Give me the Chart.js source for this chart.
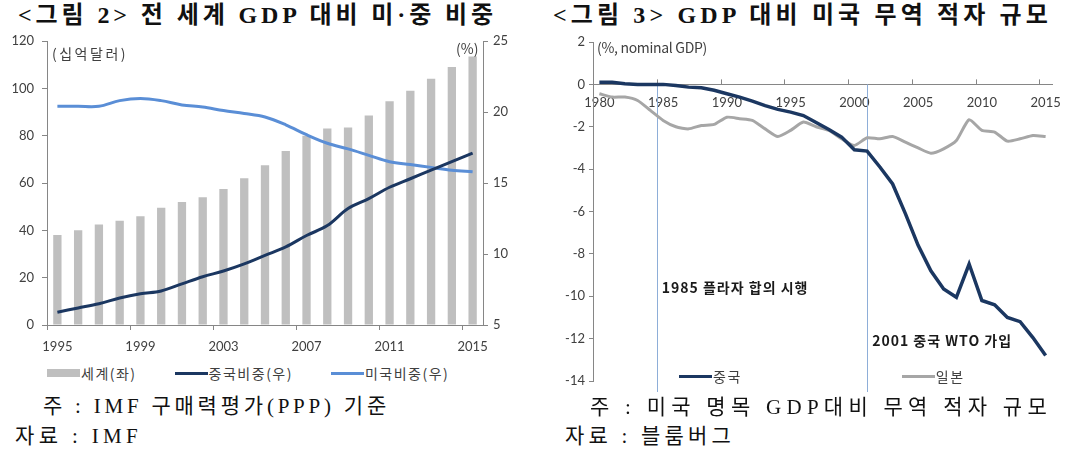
<!DOCTYPE html>
<html>
<head>
<meta charset="utf-8">
<script src="https://cdn.jsdelivr.net/npm/chart.js@4.4.0/dist/chart.umd.min.js"></script>
<style>
  body { margin: 0; background: #fff; width: 1085px; height: 455px; position: relative; overflow: hidden;
         font-family: "Noto Sans CJK KR", sans-serif; }
  .abs { position: absolute; white-space: nowrap; }
  .title { font-family: "Liberation Serif", "Noto Sans CJK KR", serif; font-size: 24px; font-weight: bold; color: #111; line-height: 1; }
  .note { font-family: "Liberation Serif", "Noto Sans CJK KR", serif; font-size: 21px; color: #111; line-height: 1; }
  .unit { font-size: 14px; color: #404040; line-height: 1; }
  .legend { position: absolute; display: flex; align-items: center; font-size: 14px; color: #404040; line-height: 1; }
  .legend .item { display: flex; align-items: center; }
  .legend .sw { width: 33px; margin-right: 1px; }
  canvas { position: absolute; }
</style>
</head>
<body>

<div class="abs title fit" data-w="479" style="left:18px; top:3px;">&lt;그림 2&gt; 전 세계 GDP 대비 미·중 비중</div>
<div class="abs title fit" data-w="499" style="left:553px; top:3px;">&lt;그림 3&gt; GDP 대비 미국 무역 적자 규모</div>

<canvas id="c1" width="540" height="330" style="left:0; top:30px;"></canvas>
<canvas id="c2" width="540" height="365" style="left:545px; top:30px;"></canvas>

<div class="abs unit fit" data-w="76" style="left:52px; top:46px;">(십억달러)</div>
<div class="abs unit" style="left:456px; top:41px;">(%)</div>
<div class="abs unit fit" data-w="110" style="left:597px; top:40px;">(%, nominal GDP)</div>

<div id="leg1" class="legend" style="left:47px; top:366px;"></div>
<div id="leg2" class="legend" style="left:679px; top:369px;"></div>

<div class="abs note fit" data-w="347" style="left:43px; top:396px;">주 : IMF 구매력평가(PPP) 기준</div>
<div class="abs note fit" data-w="127" style="left:15px; top:426px;">자료 : IMF</div>
<div class="abs note fit" data-w="462" style="left:590px; top:397px;">주 : 미국 명목 GDP대비 무역 적자 규모</div>
<div class="abs note fit" data-w="170" style="left:565px; top:426px;">자료 : 블룸버그</div>

<script>
// <그림 2> 1995-2015
const years1 = ['1995', '1996', '1997', '1998', '1999', '2000', '2001', '2002', '2003', '2004', '2005',
                '2006', '2007', '2008', '2009', '2010', '2011', '2012', '2013', '2014', '2015'];
const worldGdp = [38, 40, 42.5, 44, 46, 49.5, 52, 54, 57.5, 62, 67.5,
                  73.5, 80, 83, 83.5, 88.5, 94.5, 99, 104, 109, 113.5];
const chinaShare = [5.9, 6.2, 6.5, 6.9, 7.2, 7.4, 7.9, 8.4, 8.8, 9.3, 9.9,
                    10.5, 11.3, 12.0, 13.2, 13.9, 14.7, 15.3, 15.9, 16.5, 17.1];
const usShare = [20.4, 20.4, 20.4, 20.8, 20.95, 20.8, 20.5, 20.35, 20.1, 19.9, 19.65,
                 19.1, 18.4, 17.8, 17.4, 16.95, 16.5, 16.3, 16.1, 15.9, 15.8];

// <그림 3> 1980-2015
const years2 = ['1980', '1981', '1982', '1983', '1984', '1985', '1986', '1987', '1988', '1989',
                '1990', '1991', '1992', '1993', '1994', '1995', '1996', '1997', '1998', '1999',
                '2000', '2001', '2002', '2003', '2004', '2005', '2006', '2007', '2008', '2009',
                '2010', '2011', '2012', '2013', '2014', '2015'];
const chinaDeficit = [0.1, 0.1, 0.03, 0, 0, 0, -0.05, -0.13, -0.16, -0.28,
                      -0.44, -0.6, -0.79, -1.0, -1.18, -1.31, -1.47, -1.8, -2.13, -2.49,
                      -3.09, -3.15, -3.9, -4.7, -6.1, -7.6, -8.8, -9.66, -10.05, -8.48,
                      -10.2, -10.4, -11.0, -11.2, -11.95, -12.8];
const japanDeficit = [-0.44, -0.6, -0.6, -0.76, -1.23, -1.7, -2.0, -2.1, -1.94, -1.89,
                      -1.55, -1.62, -1.7, -2.1, -2.46, -2.17, -1.78, -2.0, -2.17, -2.57,
                      -2.88, -2.52, -2.57, -2.46, -2.73, -3.0, -3.25, -3.04, -2.65, -1.67,
                      -2.17, -2.25, -2.68, -2.57, -2.41, -2.46];

// event markers (year on the category axis) and their labels
const eventYears = [1984.5, 2001];
const eventLabels = ['1985 플라자 합의 시행', '2001 중국 WTO 가입'];
const eventLabelValues = [-9.6, -12.1];

const axisGray = '#868686';
const navy = '#1b3761';

Chart.defaults.font.family = 'Lato, "Noto Sans CJK KR", sans-serif';
Chart.defaults.font.size = 13;
Chart.defaults.color = '#404040';

// keep tick padding from pushing the plot area down
const trimPad = (s, w) => { s.width = w; s.paddingTop = 4; s.paddingBottom = 0; };

const chart1 = new Chart(document.getElementById('c1'), {
    type: 'bar',
    data: {
        labels: years1,
        datasets: [
            {
                type: 'bar', label: '세계(좌)', data: worldGdp, yAxisID: 'y',
                backgroundColor: '#bfbfbf', barPercentage: 0.4, categoryPercentage: 1, order: 3
            },
            {
                type: 'line', label: '중국비중(우)', data: chinaShare, yAxisID: 'y1',
                borderColor: navy, borderWidth: 3, pointRadius: 0, tension: 0.35, order: 1
            },
            {
                type: 'line', label: '미국비중(우)', data: usShare, yAxisID: 'y1',
                borderColor: '#5a8ed6', borderWidth: 3, pointRadius: 0, tension: 0.35, order: 2
            }
        ]
    },
    options: {
        responsive: false,
        animation: false,
        layout: { padding: { top: 11, bottom: 0 } },
        plugins: { legend: { display: false }, tooltip: { enabled: false } },
        scales: {
            x: {
                offset: true,
                grid: {
                    drawOnChartArea: false, offset: true, tickLength: 5,
                    tickColor: (c) => (c.index % 4 === 0 ? axisGray : 'rgba(0,0,0,0)')
                },
                border: { color: axisGray },
                ticks: {
                    autoSkip: false, maxRotation: 0, padding: 9,
                    callback: (v, i) => (i % 4 === 0 ? years1[i] : '')
                },
                afterFit: (s) => { s.height = 35; }
            },
            y: {
                min: 0, max: 120,
                grid: { drawOnChartArea: false, tickLength: 5, tickColor: axisGray },
                border: { color: axisGray },
                ticks: { stepSize: 20, padding: 8 },
                afterFit: (s) => trimPad(s, 47)
            },
            y1: {
                position: 'right', min: 5, max: 25,
                grid: { drawOnChartArea: false, tickLength: 5, tickColor: axisGray },
                border: { color: axisGray },
                ticks: { stepSize: 5, padding: 5 },
                afterFit: (s) => trimPad(s, 57)
            }
        }
    }
});

const eventPlugin = {
    id: 'events',
    beforeDatasetsDraw(chart) {
        const { ctx, chartArea } = chart;
        const x = chart.scales.x, y = chart.scales.y;
        const step = x.getPixelForValue(1) - x.getPixelForValue(0);
        const y0 = y.getPixelForValue(0);
        ctx.save();
        ctx.lineWidth = 1;
        // tick marks point up from the zero line
        ctx.strokeStyle = axisGray;
        years2.forEach((yr, i) => {
            if (i % 5 !== 0) return;
            const px = Math.round(x.getPixelForValue(i) - step / 2) + 0.5;
            ctx.beginPath();
            ctx.moveTo(px, y0);
            ctx.lineTo(px, y0 - 5);
            ctx.stroke();
        });
        ctx.strokeStyle = '#8eaed8';
        eventYears.forEach((yr) => {
            const px = Math.round(x.getPixelForValue(0) + (yr - 1980) * step) + 0.5;
            ctx.beginPath();
            ctx.moveTo(px, y0);
            ctx.lineTo(px, chartArea.bottom + 11);
            ctx.stroke();
        });
        ctx.restore();
    },
    afterDatasetsDraw(chart) {
        const { ctx } = chart;
        const x = chart.scales.x, y = chart.scales.y;
        const step = x.getPixelForValue(1) - x.getPixelForValue(0);
        ctx.save();
        ctx.font = 'bold 14px "Noto Sans CJK KR", sans-serif';
        ctx.letterSpacing = '1px';
        ctx.fillStyle = '#1a1a1a';
        ctx.textBaseline = 'middle';
        eventYears.forEach((yr, i) => {
            const px = x.getPixelForValue(0) + (yr - 1980) * step;
            ctx.fillText(eventLabels[i], px + 5, y.getPixelForValue(eventLabelValues[i]));
        });
        ctx.restore();
    }
};

const chart2 = new Chart(document.getElementById('c2'), {
    type: 'line',
    data: {
        labels: years2,
        datasets: [
            {
                label: '중국', data: chinaDeficit, borderColor: navy, borderWidth: 3.5,
                pointRadius: 0, tension: 0, order: 1
            },
            {
                label: '일본', data: japanDeficit, borderColor: '#a6a6a6', borderWidth: 3,
                pointRadius: 0, tension: 0.2, order: 2
            }
        ]
    },
    options: {
        responsive: false,
        animation: false,
        layout: { padding: { top: 12, right: 33, bottom: 14 } },
        plugins: { legend: { display: false }, tooltip: { enabled: false } },
        scales: {
            x: {
                position: { y: 0 },
                offset: true,
                grid: { display: true, drawOnChartArea: false, drawTicks: false, offset: true },
                border: { color: axisGray },
                ticks: {
                    autoSkip: false, maxRotation: 0, padding: 11,
                    callback: (v, i) => (i % 5 === 0 ? years2[i] : '')
                }
            },
            y: {
                min: -14, max: 2,
                grid: { drawOnChartArea: false, tickLength: 4, tickColor: axisGray },
                border: { color: axisGray },
                ticks: { stepSize: 2, padding: 4 },
                afterFit: (s) => { s.width = 48; }
            }
        }
    },
    plugins: [eventPlugin]
});

// html legends built from each chart's datasets
function buildLegend(el, chart, gap) {
    chart.data.datasets.forEach((ds, i) => {
        const item = document.createElement('div');
        item.className = 'item';
        if (i > 0) item.style.marginLeft = gap + 'px';
        const sw = document.createElement('div');
        sw.className = 'sw';
        const isBar = ds.type === 'bar';
        sw.style.height = isBar ? '8px' : '3px';
        sw.style.background = isBar ? ds.backgroundColor : ds.borderColor;
        const tx = document.createElement('span');
        tx.textContent = ds.label;
        tx.style.letterSpacing = '1.5px';
        item.appendChild(sw);
        item.appendChild(tx);
        el.appendChild(item);
    });
}
buildLegend(document.getElementById('leg1'), chart1, 38);
buildLegend(document.getElementById('leg2'), chart2, 160);

// stretch text blocks to the widths seen in the picture
document.querySelectorAll('.fit').forEach((el) => {
    const target = +el.dataset.w;
    const n = el.textContent.length;
    const w = el.getBoundingClientRect().width;
    el.style.letterSpacing = ((target - w) / n) + 'px';
});
</script>
</body>
</html>
